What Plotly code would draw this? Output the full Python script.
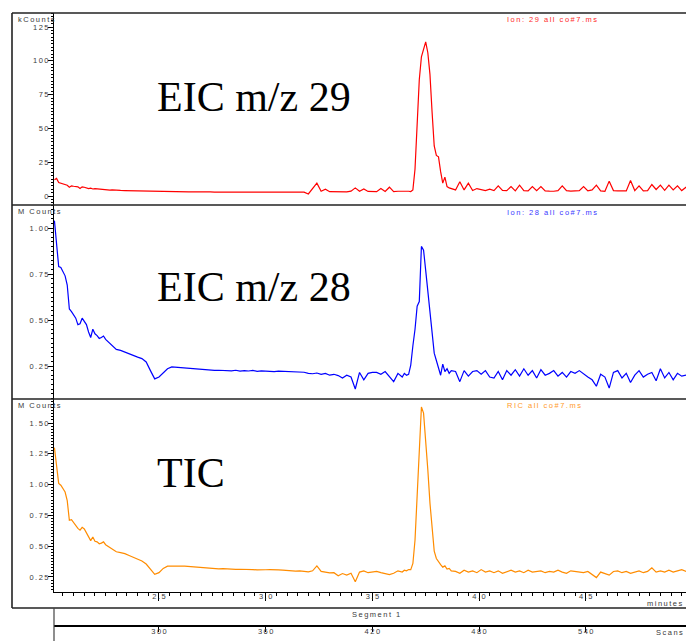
import plotly.graph_objects as go

# Retention time (minutes), shared by all three chromatograms
time_min = [
    2.01, 2.02, 2.03, 2.04, 2.05, 2.06, 2.07, 2.08, 2.09, 2.10,
    2.11, 2.12, 2.13, 2.14, 2.15, 2.16, 2.17, 2.18, 2.19, 2.20,
    2.21, 2.22, 2.23, 2.24, 2.25, 2.26, 2.27, 2.28, 2.29, 2.30,
    2.32, 2.34, 2.36, 2.38, 2.40, 2.42, 2.44, 2.46, 2.48, 2.50,
    2.52, 2.54, 2.56, 2.58, 2.60, 2.62, 2.64, 2.66, 2.68, 2.70,
    2.72, 2.74, 2.76, 2.78, 2.80, 2.82, 2.84, 2.86, 2.88, 2.90,
    2.92, 2.94, 2.96, 2.98, 3.00, 3.02, 3.04, 3.06, 3.08, 3.10,
    3.12, 3.14, 3.16, 3.18, 3.20, 3.22, 3.24, 3.26, 3.28, 3.30,
    3.32, 3.34, 3.36, 3.38, 3.40, 3.42, 3.44, 3.46, 3.48, 3.50,
    3.52, 3.54, 3.56, 3.58, 3.60, 3.62, 3.64, 3.65, 3.66, 3.67,
    3.68, 3.69, 3.70, 3.71, 3.72, 3.73, 3.74, 3.75, 3.76, 3.77,
    3.78, 3.79, 3.80, 3.81, 3.82, 3.83, 3.84, 3.85, 3.86, 3.87,
    3.89, 3.91, 3.93, 3.95, 3.97, 3.99, 4.01, 4.03, 4.05, 4.07,
    4.09, 4.11, 4.13, 4.15, 4.17, 4.19, 4.21, 4.23, 4.25, 4.27,
    4.29, 4.31, 4.33, 4.35, 4.37, 4.39, 4.41, 4.43, 4.45, 4.47,
    4.49, 4.51, 4.53, 4.55, 4.57, 4.59, 4.61, 4.63, 4.65, 4.67,
    4.69, 4.71, 4.73, 4.75, 4.77, 4.79, 4.81, 4.83, 4.85, 4.87,
    4.89, 4.91, 4.93, 4.95, 4.97, 4.99,
]

# Extracted ion m/z 29 (kCounts)
eic29_kcounts = [
    12.0, 13.0, 10.0, 9.5, 9.0, 8.5, 8.0, 6.5, 7.5, 7.2,
    7.0, 6.8, 5.5, 6.8, 6.5, 6.2, 5.5, 5.8, 5.2, 5.5,
    5.3, 5.0, 4.8, 5.0, 4.6, 4.5, 4.4, 4.5, 4.3, 4.2,
    4.1, 4.0, 3.9, 3.8, 3.7, 3.6, 3.6, 3.5, 3.5, 3.4,
    3.3, 3.3, 3.2, 3.2, 3.1, 3.1, 3.0, 3.0, 3.1, 3.0,
    3.0, 3.0, 2.9, 3.0, 3.0, 2.9, 2.9, 2.9, 2.9, 2.9,
    2.9, 2.9, 2.9, 2.8, 2.8, 2.8, 2.8, 2.8, 2.8, 2.8,
    2.8, 2.8, 2.8, 2.8, 1.5, 5.5, 9.5, 3.5, 5.0, 3.2,
    3.2, 3.0, 3.1, 3.0, 3.6, 6.0, 3.5, 5.2, 3.4, 3.3,
    3.2, 5.5, 3.3, 6.5, 3.2, 3.5, 3.6, 3.4, 3.8, 3.5,
    3.3, 4.5, 20.0, 50.0, 86.0, 103.0, 109.0, 114.0, 106.0, 90.0,
    62.0, 37.0, 30.0, 29.0, 18.0, 9.5, 14.0, 7.0, 6.0, 5.5,
    4.5, 10.5, 4.5, 9.5, 4.0, 5.5, 4.5, 4.0, 5.0, 4.0,
    7.5, 4.2, 4.0, 7.0, 3.8, 8.0, 4.0, 3.8, 7.0, 4.0,
    7.0, 3.8, 3.6, 3.5, 4.0, 7.5, 4.0, 3.6, 3.8, 3.9,
    7.0, 3.8, 4.5, 8.0, 3.8, 3.5, 11.0, 4.0, 3.8, 3.6,
    3.8, 11.5, 4.0, 7.5, 3.8, 4.0, 8.5, 4.8, 8.0, 4.2,
    8.0, 4.5, 7.5, 4.0, 6.5, 5.0,
]

# Extracted ion m/z 28 (MCounts)
eic28_mcounts = [
    1.04, 0.90, 0.79, 0.785, 0.765, 0.74, 0.69, 0.56, 0.545, 0.525,
    0.51, 0.475, 0.48, 0.51, 0.495, 0.475, 0.435, 0.405, 0.45, 0.425,
    0.415, 0.40, 0.405, 0.413, 0.395, 0.385, 0.372, 0.362, 0.35, 0.34,
    0.335, 0.325, 0.318, 0.305, 0.298, 0.29, 0.272, 0.225, 0.18, 0.19,
    0.215, 0.235, 0.245, 0.243, 0.242, 0.24, 0.238, 0.236, 0.232, 0.23,
    0.228, 0.229, 0.226, 0.227, 0.225, 0.226, 0.224, 0.227, 0.222, 0.225,
    0.223, 0.226, 0.221, 0.224, 0.222, 0.223, 0.220, 0.222, 0.221, 0.220,
    0.221, 0.219, 0.218, 0.216, 0.21, 0.208, 0.212, 0.205, 0.21, 0.20,
    0.205, 0.198, 0.185, 0.20, 0.19, 0.125, 0.215, 0.175, 0.21, 0.215,
    0.215, 0.205, 0.22, 0.195, 0.165, 0.21, 0.19, 0.21, 0.20, 0.205,
    0.255, 0.36, 0.45, 0.575, 0.60, 0.90, 0.88, 0.77, 0.66, 0.53,
    0.42, 0.32, 0.28, 0.245, 0.20, 0.26, 0.22, 0.235, 0.21, 0.225,
    0.22, 0.165, 0.225, 0.195, 0.22, 0.225, 0.205, 0.225, 0.19, 0.185,
    0.22, 0.175, 0.225, 0.20, 0.23, 0.195, 0.235, 0.20, 0.225, 0.185,
    0.23, 0.20, 0.21, 0.225, 0.195, 0.215, 0.19, 0.22, 0.21, 0.225,
    0.205, 0.19, 0.175, 0.14, 0.205, 0.19, 0.13, 0.215, 0.225, 0.185,
    0.21, 0.16, 0.20, 0.225, 0.19, 0.205, 0.215, 0.17, 0.235, 0.185,
    0.215, 0.175, 0.21, 0.195, 0.20, 0.195,
]

# Total ion chromatogram (MCounts)
tic_mcounts = [
    1.30, 1.15, 1.01, 0.995, 0.97, 0.94, 0.87, 0.71, 0.715, 0.69,
    0.672, 0.645, 0.63, 0.653, 0.64, 0.612, 0.575, 0.545, 0.575, 0.54,
    0.535, 0.52, 0.525, 0.535, 0.512, 0.50, 0.485, 0.475, 0.462, 0.455,
    0.448, 0.44, 0.425, 0.41, 0.395, 0.38, 0.355, 0.31, 0.272, 0.285,
    0.32, 0.338, 0.34, 0.34, 0.339, 0.338, 0.335, 0.332, 0.328, 0.325,
    0.322, 0.324, 0.318, 0.316, 0.318, 0.314, 0.315, 0.312, 0.313, 0.31,
    0.312, 0.31, 0.308, 0.311, 0.309, 0.31, 0.306, 0.308, 0.305, 0.302,
    0.30, 0.298, 0.30, 0.295, 0.292, 0.30, 0.34, 0.295, 0.29, 0.283,
    0.285, 0.26, 0.278, 0.265, 0.28, 0.212, 0.29, 0.30, 0.285, 0.29,
    0.295, 0.285, 0.28, 0.27, 0.28, 0.30, 0.29, 0.305, 0.30, 0.31,
    0.31, 0.36, 0.55, 0.95, 1.35, 1.63, 1.58, 1.38, 1.12, 0.85,
    0.62, 0.46, 0.40, 0.37, 0.35, 0.33, 0.34, 0.315, 0.32, 0.30,
    0.295, 0.28, 0.305, 0.29, 0.30, 0.285, 0.31, 0.29, 0.30, 0.285,
    0.30, 0.28, 0.295, 0.305, 0.29, 0.30, 0.285, 0.305, 0.29, 0.295,
    0.30, 0.285, 0.295, 0.29, 0.305, 0.29, 0.28, 0.30, 0.295, 0.29,
    0.285, 0.295, 0.27, 0.245, 0.29, 0.275, 0.265, 0.295, 0.30, 0.285,
    0.295, 0.28, 0.29, 0.30, 0.285, 0.295, 0.325, 0.29, 0.30, 0.29,
    0.305, 0.29, 0.30, 0.31, 0.295, 0.305,
]

time_ticks = [2.5, 3.0, 3.5, 4.0, 4.5]
time_tick_text = ["2.5", "3.0", "3.5", "4.0", "4.5"]
scan_ticks = [300, 360, 420, 480, 540]
scan_tick_text = ["300", "360", "420", "480", "540"]
kcount_ticks = [0, 25, 50, 75, 100, 125]
m28_ticks = [0.25, 0.50, 0.75, 1.00]
tic_ticks = [0.25, 0.50, 0.75, 1.00, 1.25, 1.50]
scans_per_min = 120

W, H = 686, 641


def fx(px):
    return px / W


def fy(py):
    return 1 - py / H


def spaced(s):
    # the instrument software prints its labels with wide letter spacing
    return "\u2009".join(s)


SANS = "Liberation Sans, Arial, sans-serif"
TICK_FONT = dict(family=SANS, size=7.5, color="#3a3a3a")
LABEL_FONT = dict(family=SANS, size=7.5, color="#3a3a3a")
BIG_FONT = dict(family="Liberation Serif, Times New Roman, serif", size=42, color="#000000")

t_lo, t_hi = 2.008, 4.970
x_dom = [fx(54), 1.0]

fig = go.Figure()
fig.add_trace(go.Scatter(x=time_min, y=eic29_kcounts, mode="lines", hoverinfo="skip",
                         line=dict(color="#ff0000", width=1.2), xaxis="x", yaxis="y"))
fig.add_trace(go.Scatter(x=time_min, y=eic28_mcounts, mode="lines", hoverinfo="skip",
                         line=dict(color="#0000ff", width=1.2), xaxis="x", yaxis="y2"))
fig.add_trace(go.Scatter(x=time_min, y=tic_mcounts, mode="lines", hoverinfo="skip",
                         line=dict(color="#ff8c00", width=1.2), xaxis="x", yaxis="y3"))
# The TIC again against scan number, invisible, so the scan axis gets drawn
fig.add_trace(go.Scatter(x=[t * scans_per_min for t in time_min], y=tic_mcounts, mode="lines",
                         hoverinfo="skip", line=dict(color="rgba(0,0,0,0)", width=0),
                         xaxis="x2", yaxis="y3"))


def yaxis(dom, rng, tickvals, fmt, minor_dt):
    return dict(
        domain=dom, range=rng, anchor="x", showline=True, linecolor="#000000", linewidth=1,
        showgrid=False, zeroline=False, ticks="outside", ticklen=5, tickcolor="#000000",
        tickvals=tickvals, ticktext=[spaced(format(v, fmt)) for v in tickvals],
        tickfont=TICK_FONT, ticklabelstandoff=-2,
        minor=dict(ticks="outside", ticklen=2, dtick=minor_dt, tickcolor="#000000", showgrid=False),
    )


fig.update_layout(
    width=W, height=H, margin=dict(l=0, r=0, t=0, b=0),
    paper_bgcolor="white", plot_bgcolor="white", showlegend=False,
    xaxis=dict(
        domain=x_dom, range=[t_lo, t_hi], anchor="y3", showline=True, linecolor="#000000",
        linewidth=1, showgrid=False, zeroline=False, ticks="outside", ticklen=8,
        tickcolor="#000000", tickvals=time_ticks, ticktext=[spaced(s) for s in time_tick_text],
        tickfont=TICK_FONT, ticklabelstandoff=-11,
        minor=dict(ticks="outside", ticklen=3, dtick=0.05, tick0=2.0, tickcolor="#000000",
                   showgrid=False),
    ),
    xaxis2=dict(
        overlaying="x", anchor="free", position=fy(626), side="bottom",
        range=[t_lo * scans_per_min, t_hi * scans_per_min], showline=True,
        linecolor="#000000", linewidth=1.5, showgrid=False, zeroline=False,
        ticks="outside", ticklen=5, tickcolor="#000000", tickvals=scan_ticks,
        ticktext=[spaced(s) for s in scan_tick_text], tickfont=TICK_FONT, ticklabelstandoff=-7,
    ),
    yaxis=yaxis([fy(205), fy(13)], [-6.66, 135.4], kcount_ticks, "d", 2.5),
    yaxis2=yaxis([fy(399), fy(205)], [0.0707, 1.125], m28_ticks, ".2f", 0.025),
    yaxis3=yaxis([fy(592), fy(399)], [0.1282, 1.6948], tic_ticks, ".2f", 0.025),
)

# Frame around the three panels and the separators between them
frame = dict(color="#222222", width=1.6)
for py in (13, 205, 399, 608):
    fig.add_shape(type="line", xref="paper", yref="paper", x0=fx(12), x1=1.0,
                  y0=fy(py), y1=fy(py), line=frame)
fig.add_shape(type="line", xref="paper", yref="paper", x0=fx(12), x1=fx(12),
              y0=fy(608), y1=fy(13), line=frame)
fig.add_shape(type="line", xref="paper", yref="paper", x0=fx(54), x1=fx(54),
              y0=fy(641), y1=fy(608), line=dict(color="#444444", width=1.2))

# Unit labels at the top of each y axis
for label, py in [("kCounts", 19), ("M Counts", 211), ("M Counts", 405)]:
    fig.add_annotation(x=fx(16), y=fy(py), xref="paper", yref="paper", text=spaced(label),
                       showarrow=False, xanchor="left", yanchor="middle", font=LABEL_FONT)

# Trace titles
for label, py, col in [("Ion: 29 all co#7.ms", 19, "#ff2a2a"),
                       ("Ion: 28 all co#7.ms", 212, "#3a3aff"),
                       ("RIC all co#7.ms", 405, "#ff9a2a")]:
    fig.add_annotation(x=fx(505), y=fy(py), xref="paper", yref="paper", text=spaced(label),
                       showarrow=False, xanchor="left", yanchor="middle",
                       font=dict(family=SANS, size=7.5, color=col))

# Large panel captions
for label, py in [("EIC m/z 29", 97), ("EIC m/z 28", 287), ("TIC", 473)]:
    fig.add_annotation(x=fx(155), y=fy(py), xref="paper", yref="paper", text=label,
                       showarrow=False, xanchor="left", yanchor="middle", font=BIG_FONT)

# Axis captions (unit names pinned to the right edge)
fig.add_annotation(x=fx(685), y=fy(603), xref="paper", yref="paper", text=spaced("minutes"),
                   showarrow=False, xanchor="right", yanchor="middle", font=LABEL_FONT)
fig.add_annotation(x=fx(350), y=fy(614), xref="paper", yref="paper", text=spaced("Segment 1"),
                   showarrow=False, xanchor="left", yanchor="middle", font=LABEL_FONT)
fig.add_annotation(x=fx(685), y=fy(632), xref="paper", yref="paper", text=spaced("Scans"),
                   showarrow=False, xanchor="right", yanchor="middle", font=LABEL_FONT)

fig.write_html("out.html")
